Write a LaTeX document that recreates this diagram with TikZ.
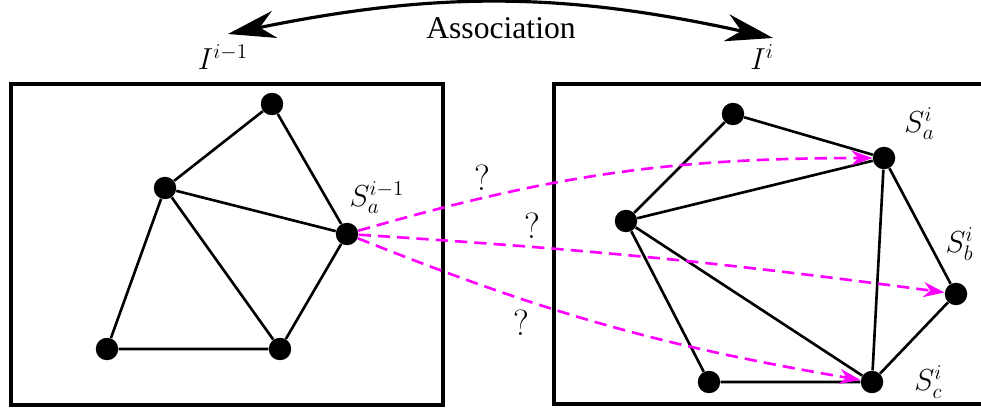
\documentclass[tikz,border=0pt]{standalone}
\usepackage{fontspec}
\newfontfamily\assocfont{Liberation Serif}
\usetikzlibrary{arrows.meta, positioning, calc}
\definecolor{matchmag}{RGB}{255,0,255}

\begin{document}
\begin{tikzpicture}[x=0.02cm, y=-0.02cm, >=Stealth, font=\fontsize{17.28}{20}\selectfont]
    \tikzset{dotnode/.style={circle, fill, minimum size=0.45cm, inner sep=0pt},
             link/.style={line width=1.5pt},
             frame/.style={line width=1.9pt},
             match/.style={-{Stealth[length=0.42cm, width=0.3cm]}, draw=matchmag, line width=1.5pt, dash pattern=on 7pt off 4pt},
             qmark/.style={text=black, font=\fontsize{20.74}{24}\selectfont},
             assoc/.style={{Stealth[length=0.95cm, width=0.55cm, inset=0.3cm]}-{Stealth[length=0.95cm, width=0.55cm, inset=0.3cm]}, line width=1.8pt}}
    \useasboundingbox (0,0) rectangle (981,408);

    % frame i-1
    \draw[frame] (11,84) rectangle (443,405);
    \node[dotnode] (pt) at (272,104) {};
    \node[dotnode] (pm) at (165,188) {};
    \node[dotnode, label={[label distance=2pt, xshift=-5pt]70:$S_a^{i-1}$}] (pa) at (347,234) {};
    \node[dotnode] (pl) at (107,349) {};
    \node[dotnode] (pr) at (280,349) {};
    \draw[link] (pt) -- (pm) -- (pa) -- (pt);
    \draw[link] (pm) -- (pl) -- (pr) -- (pm);
    \draw[link] (pr) -- (pa);

    % frame i
    \draw[frame] (554,84) rectangle (1000,404);
    \node[dotnode] (ct) at (733,114) {};
    \node[dotnode] (cm) at (626,221) {};
    \node[dotnode, label={[label distance=4pt]40:$S_a^{i}$}] (ca) at (884,158) {};
    \node[dotnode, label={[label distance=9pt, xshift=2pt]above:$S_b^{i}$}] (cb) at (956,294) {};
    \node[dotnode, label={[label distance=14pt]0:$S_c^{i}$}] (cc) at (872,382) {};
    \node[dotnode] (cl) at (709,382) {};
    \draw[link] (ct) -- (cm) -- (ca) -- (ct);
    \draw[link] (cm) -- (cl) -- (cc) -- (cm);
    \draw[link] (ca) -- (cc) -- (cb) -- (ca);

    % candidate matches
    \draw[match] (pa) to[bend left=8] node[qmark, pos=0.23, above=0pt] {?} (ca);
    \draw[match] (pa) to[bend left=2] node[qmark, pos=0.28, above=1pt] {?} (cb);
    \draw[match] (pa) to[bend right=6] node[qmark, pos=0.32, below=2pt] {?} (cc);

    % association
    \node (iprev) at (223,57) {$I^{i-1}$};
    \node (icur) at (762,57) {$I^{i}$};
    \coordinate (al) at (228,34);
    \coordinate (ar) at (773,38);
    \draw[assoc] (al) to[bend left=12] (ar);
    \node (assoc) at (501,28) {\assocfont\fontsize{18}{20}\selectfont Association};
\end{tikzpicture}
\end{document}
